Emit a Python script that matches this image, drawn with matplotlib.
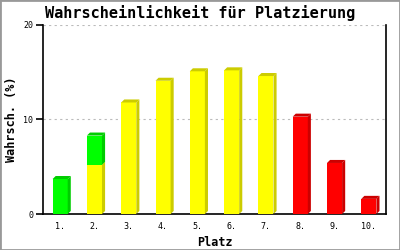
import matplotlib
matplotlib.use("Agg")
import matplotlib.pyplot as plt
from matplotlib.patches import Polygon, Rectangle

plt.rcParams['font.family'] = ['DejaVu Sans Mono']

categories = ["1.", "2.", "3.", "4.", "5.", "6.", "7.", "8.", "9.", "10."]
# stacked segments: yellow, green, red
yellow = [0, 5.2, 11.8, 14.1, 15.1, 15.2, 14.6, 0, 0, 0]
green = [3.7, 3.1, 0, 0, 0, 0, 0, 0, 0, 0]
red = [0, 0, 0, 0, 0, 0, 0, 10.3, 5.4, 1.6]

series = [
    (yellow, "#FFFF00", "#CCCC00"),
    (green, "#00FF00", "#00CC00"),
    (red, "#FF0000", "#CC0000"),
]

fig = plt.figure(figsize=(4, 2.5), dpi=100)
fig.patches.append(Rectangle((0, 0), 1, 1, transform=fig.transFigure,
                             fill=False, edgecolor="#999999", linewidth=2))
ax = fig.add_axes([0.1075, 0.144, 0.8575, 0.756])

x = list(range(1, len(categories) + 1))
w = 0.44
dx = 0.09
dy = 0.32

bottoms = [0.0] * len(x)
for vals, face, dark in series:
    for i, (xi, v) in enumerate(zip(x, vals)):
        if v <= 0:
            continue
        b = bottoms[i]
        t = b + v
        ax.add_patch(Rectangle((xi - w / 2, b), w, v, facecolor=face,
                               edgecolor="none", zorder=3))
        side = [(xi + w / 2, b), (xi + w / 2 + dx, b + dy),
                (xi + w / 2 + dx, t + dy), (xi + w / 2, t)]
        ax.add_patch(Polygon(side, closed=True, facecolor=dark,
                             edgecolor="none", zorder=3))
        top = [(xi - w / 2, t), (xi - w / 2 + dx, t + dy),
               (xi + w / 2 + dx, t + dy), (xi + w / 2, t)]
        ax.add_patch(Polygon(top, closed=True, facecolor=dark,
                             edgecolor="none", zorder=3))
        bottoms[i] = t

ax.set_xlim(0.5, len(x) + 0.5)
ax.set_ylim(0, 20)
ax.set_yticks([0, 10, 20])
ax.set_xticks(x)
ax.set_xticklabels(categories)
ax.tick_params(axis="x", length=0, labelsize=6, pad=6)
ax.tick_params(axis="y", length=5, width=1.2, labelsize=6, pad=2)
for yv in [10, 20]:
    ax.axhline(yv, color="#BBBBBB", linestyle=(0, (2, 3)), linewidth=0.8, zorder=1)

ax.spines["top"].set_visible(False)
for s in ["left", "bottom", "right"]:
    ax.spines[s].set_linewidth(1.2)
    ax.spines[s].set_color("black")

ax.set_xlabel("Platz", fontsize=8.5, fontweight="bold", labelpad=3)
ax.set_ylabel("Wahrsch. (%)", fontsize=8.5, fontweight="bold", labelpad=4)
fig.text(0.5, 0.948, "Wahrscheinlichkeit für Platzierung", ha="center",
         va="center", fontsize=11, fontweight="bold")

fig.savefig("out.png", dpi=100)
